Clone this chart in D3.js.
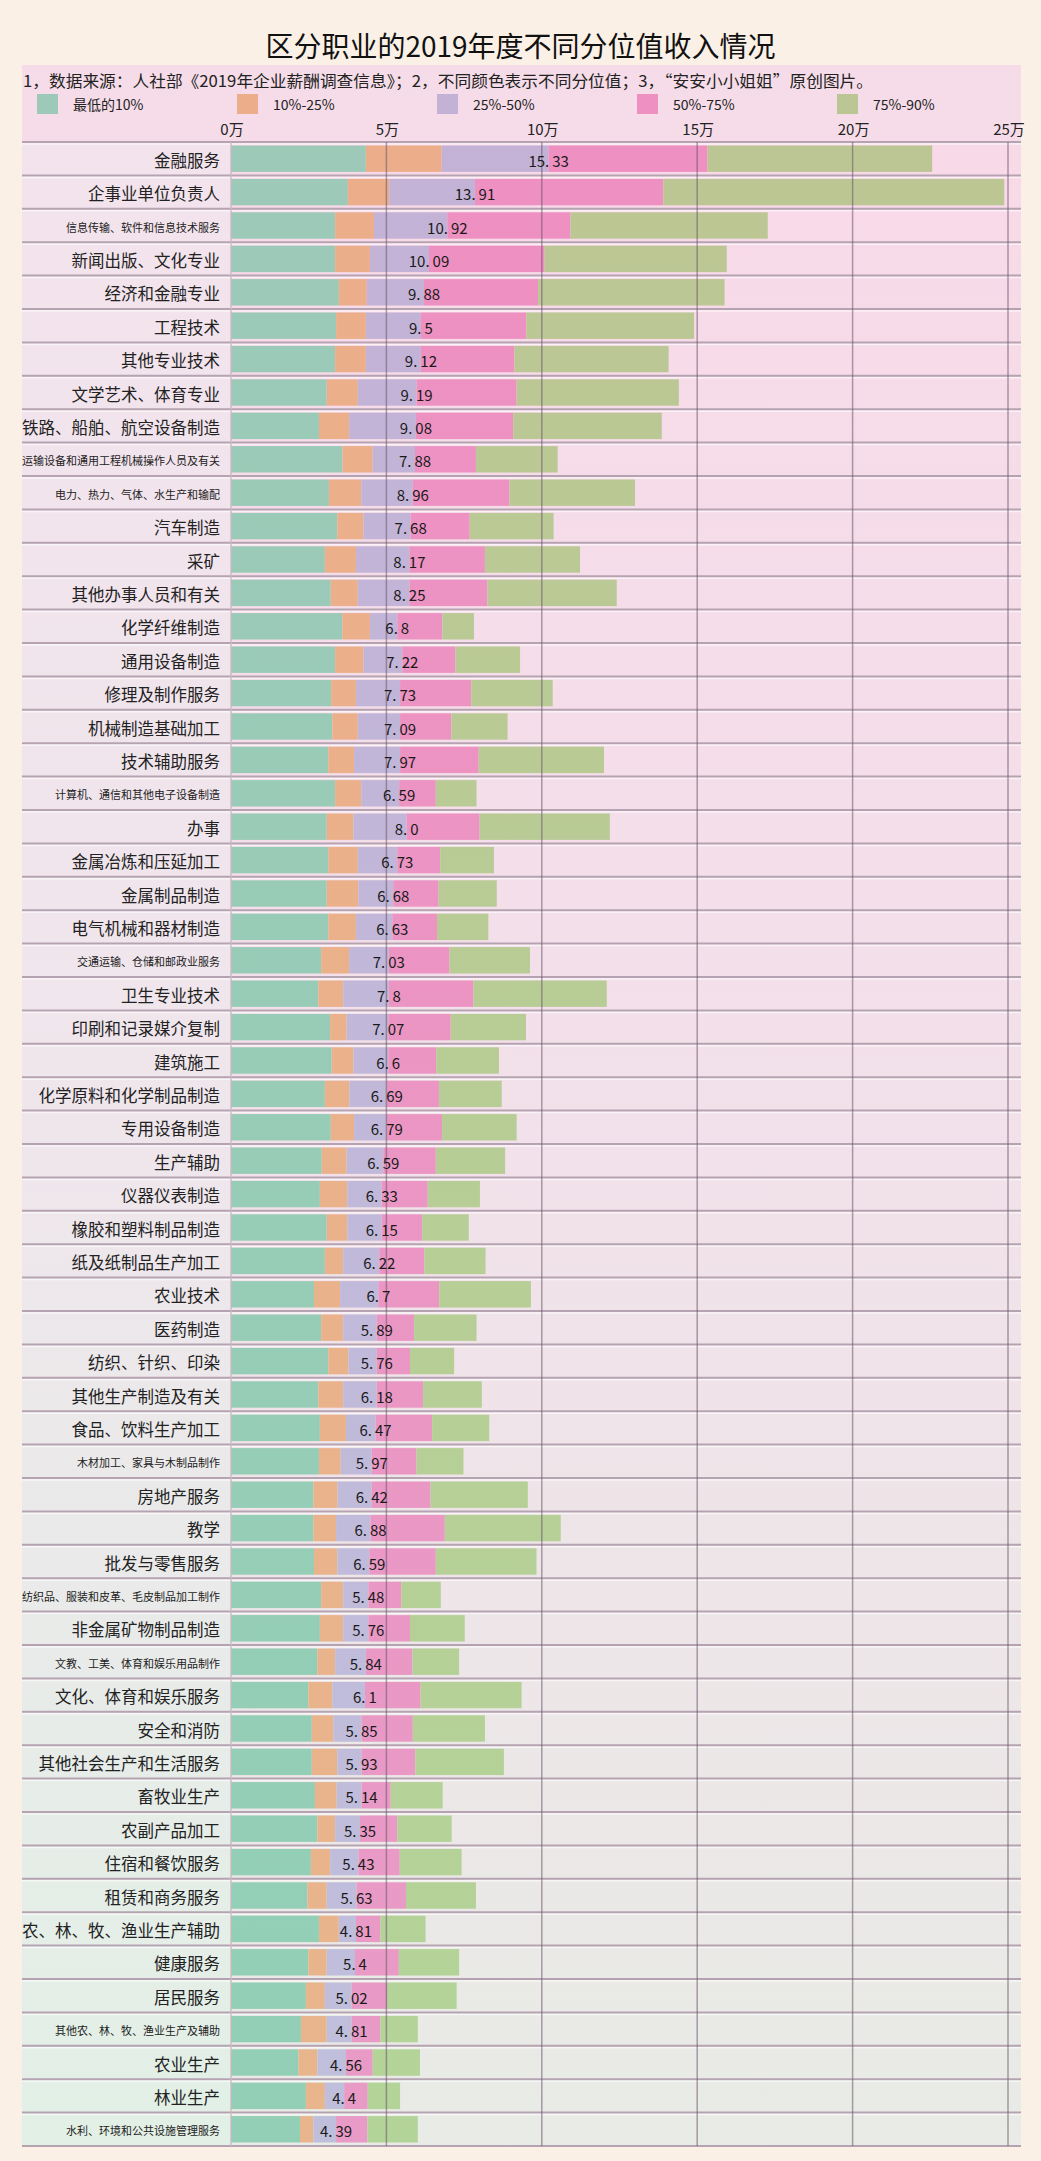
<!DOCTYPE html>
<html><head><meta charset="utf-8">
<script src="https://cdn.jsdelivr.net/npm/d3@7"></script>
<style>
html,body{margin:0;padding:0;background:#faf0e6;}
svg{display:block;}
text{font-family:"Noto Sans CJK SC","Noto Sans",sans-serif;}
</style></head>
<body><svg id="chart" width="1041" height="2161"></svg>
<script>
const title = "区分职业的2019年度不同分位值收入情况";
const note = "1，数据来源：人社部《2019年企业薪酬调查信息》；2，不同颜色表示不同分位值；3，“安安小小姐姐”原创图片。";
const seriesNames = ["最低的10%", "10%-25%", "25%-50%", "50%-75%", "75%-90%"];
const seriesColors = [["#9dc9b8","#92cfb6"],["#ecae8a","#e8b58c"],["#c3b2d6","#bfbfdc"],["#ee90c1","#e89bc6"],["#bcc694","#b3d498"]];
const tickValues = [0, 5, 10, 15, 20, 25];
const tickLabels = ["0万", "5万", "10万", "15万", "20万", "25万"];

const categories = ["金融服务","企事业单位负责人","信息传输、软件和信息技术服务","新闻出版、文化专业","经济和金融专业","工程技术","其他专业技术","文学艺术、体育专业","铁路、船舶、航空设备制造","运输设备和通用工程机械操作人员及有关",
"电力、热力、气体、水生产和输配","汽车制造","采矿","其他办事人员和有关","化学纤维制造","通用设备制造","修理及制作服务","机械制造基础加工","技术辅助服务","计算机、通信和其他电子设备制造",
"办事","金属冶炼和压延加工","金属制品制造","电气机械和器材制造","交通运输、仓储和邮政业服务","卫生专业技术","印刷和记录媒介复制","建筑施工","化学原料和化学制品制造","专用设备制造",
"生产辅助","仪器仪表制造","橡胶和塑料制品制造","纸及纸制品生产加工","农业技术","医药制造","纺织、针织、印染","其他生产制造及有关","食品、饮料生产加工","木材加工、家具与木制品制作",
"房地产服务","教学","批发与零售服务","纺织品、服装和皮革、毛皮制品加工制作","非金属矿物制品制造","文教、工美、体育和娱乐用品制作","文化、体育和娱乐服务","安全和消防","其他社会生产和生活服务","畜牧业生产",
"农副产品加工","住宿和餐饮服务","租赁和商务服务","农、林、牧、渔业生产辅助","健康服务","居民服务","其他农、林、牧、渔业生产及辅助","农业生产","林业生产","水利、环境和公共设施管理服务"];

// segment end positions (万元)
const end10 = [4.34,3.76,3.35,3.35,3.47,3.38,3.35,3.08,2.83,3.59, 3.15,3.42,3.02,3.21,3.58,3.35,3.22,3.26,3.13,3.35, 3.08,3.13,3.08,3.13,2.90,2.81,3.19,3.24,3.02,3.21, 2.92,2.86,3.08,3.02,2.67,2.90,3.13,2.81,2.86,2.83, 2.65,2.65,2.67,2.90,2.86,2.78,2.49,2.60,2.60,2.70, 2.78,2.57,2.46,2.83,2.49,2.41,2.25,2.17,2.41,2.22];
const end25 = [6.78,5.09,4.60,4.47,4.37,4.34,4.34,4.08,3.80,4.56, 4.19,4.26,4.02,4.08,4.47,4.26,4.02,4.08,3.96,4.19, 3.94,4.08,4.10,4.02,3.80,3.61,3.72,3.94,3.81,3.96, 3.72,3.74,3.74,3.61,3.51,3.61,3.78,3.61,3.70,3.53, 3.43,3.38,3.42,3.61,3.61,3.35,3.26,3.29,3.42,3.40, 3.35,3.19,3.08,3.47,3.08,3.02,3.08,2.78,3.02,2.65];
const end50 = [10.22,7.85,6.96,6.37,6.21,6.11,6.11,5.97,5.95,5.92, 5.85,5.78,5.74,5.74,5.35,5.51,5.44,5.44,5.44,5.41, 5.65,5.35,5.22,5.19,5.08,5.08,5.06,5.06,5.01,5.01, 4.90,4.85,4.85,4.77,4.74,4.69,4.69,4.69,4.65,4.53, 4.53,4.49,4.45,4.42,4.42,4.34,4.31,4.20,4.20,4.20, 4.15,4.10,4.04,4.02,3.99,3.88,3.88,3.70,3.64,3.38];
const medianValues = [15.33,13.91,10.92,10.09,9.88,9.5,9.12,9.19,9.08,7.88, 8.96,7.68,8.17,8.25,6.8,7.22,7.73,7.09,7.97,6.59, 8.0,6.73,6.68,6.63,7.03,7.8,7.07,6.6,6.69,6.79, 6.59,6.33,6.15,6.22,6.7,5.89,5.76,6.18,6.47,5.97, 6.42,6.88,6.59,5.48,5.76,5.84,6.1,5.85,5.93,5.14, 5.35,5.43,5.63,4.81,5.4,5.02,4.81,4.56,4.4,4.39];
const end90 = [22.56,24.88,17.27,15.95,15.88,14.90,14.08,14.41,13.86,10.51, 13.00,10.38,11.23,12.41,7.82,9.30,10.35,8.90,12.00,7.90, 12.19,8.46,8.55,8.28,9.62,12.09,9.49,8.62,8.71,9.19, 8.82,8.01,7.65,8.19,9.65,7.90,7.18,8.07,8.31,7.48, 9.55,10.61,9.83,6.75,7.52,7.34,9.35,8.17,8.78,6.81, 7.10,7.42,7.88,6.26,7.34,7.26,6.01,6.08,5.44,6.01];

const svg = d3.select("#chart");
const W = 1041;
const panelL = 22, panelR = 1021, panelT = 65;
const rowsTop = 142, rowsBottom = 2146;
const x = d3.scaleLinear().domain([0, 25]).range([231, 1008]);
const y = d3.scaleBand().domain(categories).range([rowsTop, rowsBottom]).padding(0);

const defs = svg.append("defs");
function vgrad(id, stops) {
  const g = defs.append("linearGradient").attr("id", id).attr("gradientUnits", "userSpaceOnUse")
    .attr("x1", 0).attr("x2", 0).attr("y1", rowsTop).attr("y2", rowsBottom);
  stops.forEach((c, i) => g.append("stop").attr("offset", i / (stops.length - 1)).attr("stop-color", c));
}
vgrad("plotBg", ["#f8d9e8", "#f2e1ea", "#e8ebe6"]);
vgrad("labelBg", ["#f3e3ec", "#efe6ec", "#e2f0e6"]);
seriesColors.forEach((c, i) => vgrad("s" + i, c));

// panel backgrounds
svg.append("rect").attr("x", panelL).attr("y", panelT).attr("width", panelR - panelL).attr("height", rowsTop - panelT).attr("fill", "#f5dce8");
svg.append("rect").attr("x", x(0)).attr("y", rowsTop).attr("width", panelR - x(0)).attr("height", rowsBottom - rowsTop).attr("fill", "url(#plotBg)");
svg.append("rect").attr("x", panelL).attr("y", rowsTop).attr("width", x(0) - panelL).attr("height", rowsBottom - rowsTop).attr("fill", "url(#labelBg)");

// title and note
svg.append("text").attr("x", W / 2).attr("y", 45).attr("text-anchor", "middle").attr("dominant-baseline", "central")
  .attr("font-size", 28).attr("fill", "#111").text(title);
svg.append("text").attr("x", 23).attr("y", 80).attr("dominant-baseline", "central")
  .attr("font-size", 16).attr("fill", "#222").attr("textLength", 850).attr("lengthAdjust", "spacingAndGlyphs").text(note);

// legend
const legend = svg.append("g");
seriesNames.forEach((n, i) => {
  const lx = 37 + i * 200;
  legend.append("rect").attr("x", lx).attr("y", 94).attr("width", 21).attr("height", 20).attr("fill", seriesColors[i][0]);
  legend.append("text").attr("x", lx + 36).attr("y", 104).attr("dominant-baseline", "central")
    .attr("font-size", 14).attr("fill", "#222").text(n);
});

// ticks
svg.append("g").selectAll("text").data(tickValues).join("text")
  .attr("x", d => x(d) + 1).attr("y", 128).attr("text-anchor", "middle").attr("dominant-baseline", "central")
  .attr("font-size", 15).attr("fill", "#222").text((d, i) => tickLabels[i]);

// bars
const segs = categories.map((c, i) => {
  const b = [0, end10[i], end25[i], end50[i], medianValues[i], end90[i]];
  return d3.range(5).map(k => ({ c, k, x0: b[k], x1: b[k + 1] }));
}).flat();
const bh = y.bandwidth();
svg.append("g").selectAll("rect").data(segs).join("rect")
  .attr("x", d => x(d.x0)).attr("width", d => x(d.x1) - x(d.x0))
  .attr("y", d => y(d.c) + 3.5).attr("height", bh - 7)
  .attr("fill", d => "url(#s" + d.k + ")");

// row separators
const lines = svg.append("g");
const bounds = categories.map(c => y(c)).concat([rowsBottom]);
lines.selectAll("line.sep").data(bounds).join("line").attr("class", "sep")
  .attr("x1", panelL).attr("x2", panelR).attr("y1", d => d).attr("y2", d => d)
  .attr("stroke", "#b6a3b2").attr("stroke-width", 2);
lines.selectAll("line.hl").data(bounds.slice(0, -1)).join("line").attr("class", "hl")
  .attr("x1", panelL).attr("x2", panelR).attr("y1", d => d + 2).attr("y2", d => d + 2)
  .attr("stroke", "#ffffff").attr("stroke-opacity", 0.6).attr("stroke-width", 1.5);

// vertical gridlines (over the bars)
svg.append("g").selectAll("line").data(tickValues).join("line")
  .attr("x1", d => x(d)).attr("x2", d => x(d)).attr("y1", rowsTop).attr("y2", rowsBottom)
  .attr("stroke", d => d === 0 ? "#c9b8c4" : "#6a566a").attr("stroke-opacity", d => d === 0 ? 0.9 : 0.55).attr("stroke-width", 1.5);

// category labels
svg.append("g").selectAll("text").data(categories).join("text")
  .attr("x", 220).attr("y", d => y(d) + bh / 2 + 1).attr("text-anchor", "end").attr("dominant-baseline", "central")
  .attr("font-size", d => d.length > 12 ? 11 : 16.5).attr("fill", "#222").text(d => d);

// median value labels
const fmt = v => Number.isInteger(v) ? v.toFixed(1) : String(v);
const vl = svg.append("g").selectAll("text").data(categories).join("text")
  .attr("x", (d, i) => x(end50[i])).attr("y", d => y(d) + bh / 2 + 1).attr("text-anchor", "middle").attr("dominant-baseline", "central")
  .attr("font-size", 15).attr("fill", "#1a1a1a");
vl.each(function(d, i) {
  const parts = fmt(medianValues[i]).split(".");
  const t = d3.select(this);
  t.append("tspan").text(parts[0] + ".");
  t.append("tspan").attr("dx", 3).text(parts[1]);
});
</script></body></html>
